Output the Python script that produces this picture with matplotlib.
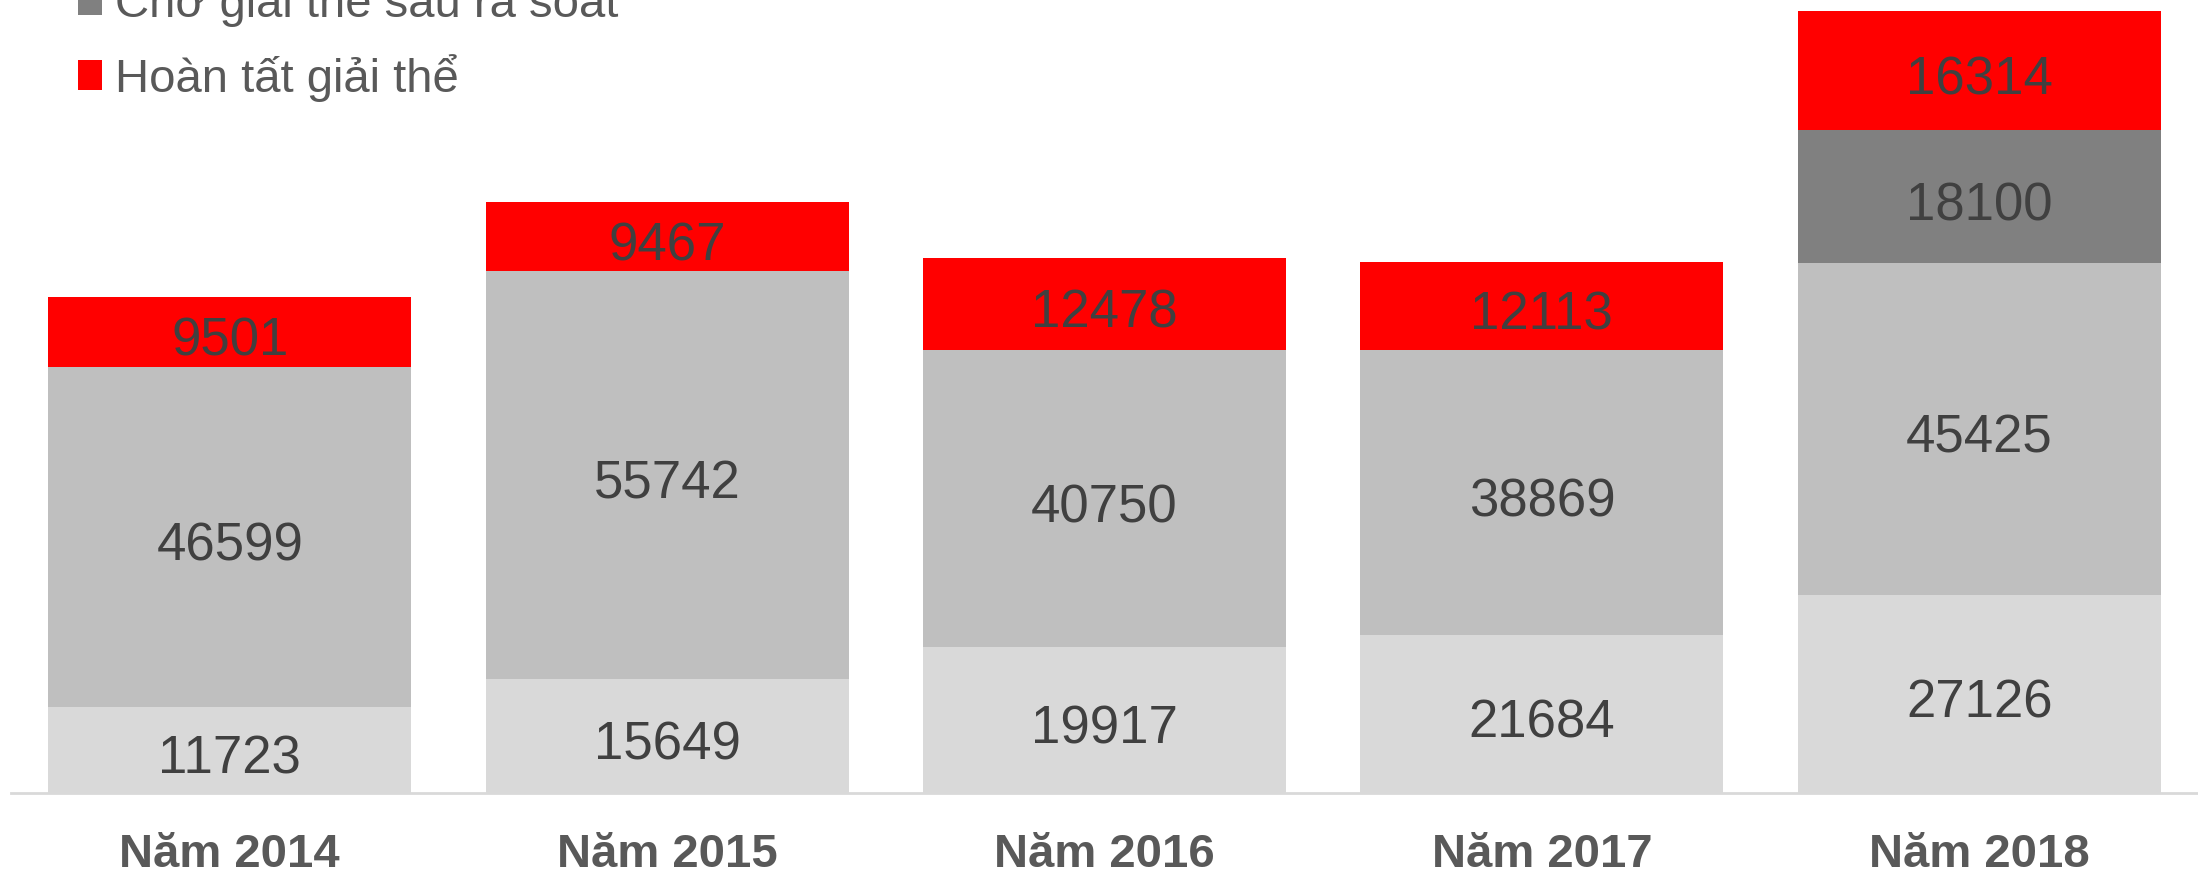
import matplotlib
matplotlib.use("Agg")
import matplotlib.pyplot as plt
import numpy as np

plt.rcParams['font.family'] = ['Liberation Sans', 'DejaVu Sans']

years = ["Năm 2014", "Năm 2015", "Năm 2016", "Năm 2017", "Năm 2018"]
tam_ngung = [11723, 15649, 19917, 21684, 27126]
cho_giai_the = [46599, 55742, 40750, 38869, 45425]
cho_sau_ra_soat = [0, 0, 0, 0, 18100]
hoan_tat = [9501, 9467, 12478, 12113, 16314]

series = [
    ("Tạm ngừng kinh doanh", tam_ngung, "#D9D9D9"),
    ("Ngừng hoạt động chờ giải thể", cho_giai_the, "#BFBFBF"),
    ("Chờ giải thể sau rà soát", cho_sau_ra_soat, "#808080"),
    ("Hoàn tất giải thể", hoan_tat, "#FF0000"),
]

fig = plt.figure(figsize=(21.98, 8.73), dpi=100)
ax = fig.add_axes([11 / 2198, 80 / 873, 1 - 11 / 2198, 793 / 873])

x = np.arange(len(years))
bottom = np.zeros(len(years))
bars = []
for name, vals, color in series:
    vals = np.array(vals, dtype=float)
    b = ax.bar(x, vals, width=0.83, bottom=bottom, color=color, label=name)
    bars.append(b)
    for xi, v, b0 in zip(x, vals, bottom):
        if v > 0:
            ax.annotate(f"{int(v)}", (xi, b0 + v / 2), xytext=(0, -3),
                        textcoords='offset points', ha='center',
                        va='center_baseline', fontsize=38, color='#404040')
    bottom += vals

ax.set_xlim(-0.5, len(years) - 0.5)
ax.set_ylim(0, 108500)
ax.set_xticks(x)
ax.set_xticklabels(years, fontsize=34, fontweight='bold', color='#595959')
ax.tick_params(axis='x', length=0, pad=29)
ax.set_yticks([])
for s in ['top', 'left', 'right']:
    ax.spines[s].set_visible(False)
ax.spines['bottom'].set_color('#D9D9D9')
ax.spines['bottom'].set_linewidth(2)

# only the last two legend entries show inside the picture
leg = fig.legend(handles=[bars[2], bars[3]], loc='upper left',
                 bbox_to_anchor=(59 / 2198, 1 + 40 / 873),
                 fontsize=34, frameon=False, handlelength=0.51, handleheight=0.6,
                 handletextpad=0.28, labelspacing=0.58, borderaxespad=0)
for t in leg.get_texts():
    t.set_color('#595959')

fig.savefig("out.png", dpi=100)
